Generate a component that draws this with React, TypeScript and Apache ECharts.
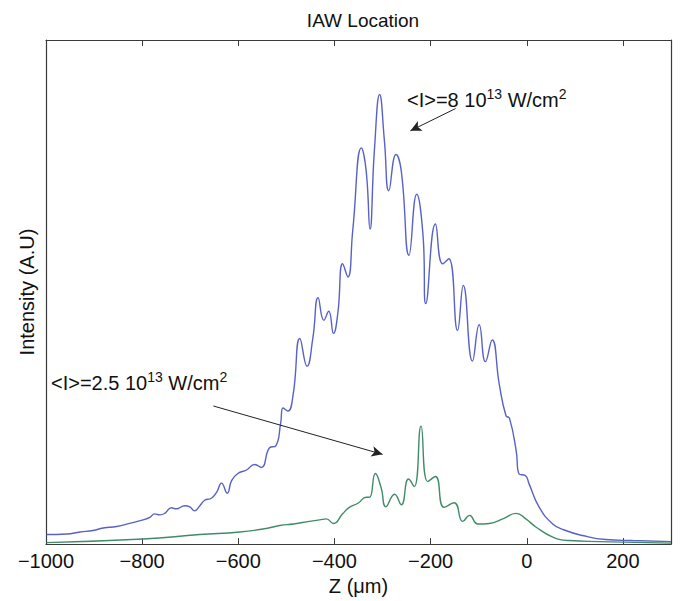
import React, { useEffect, useRef } from 'react';
import * as echarts from 'echarts';

// Z positions (µm) and intensities (A.U) for <I>=8 10^13 W/cm^2
const zHigh = [-999, -957, -929, -902, -881, -853, -826, -798, -784, -774, -763, -753, -739, -729, -711, -701, -691, -680, -670, -656, -645, -635, -623, -614, -601, -583, -566, -552, -535, -522, -512, -507, -497, -486, -472, -457, -445, -434, -422, -412, -402, -393, -383, -372, -362, -344, -334, -326, -317, -306, -296, -287, -272, -261, -245, -229, -216, -210, -190, -175, -162, -144, -132, -113, -99, -86, -72, -57, -43, -36, -22, -16, -3, 5, 26, 54, 78, 116, 164, 220, 300];
const iHigh = [1.9, 2.0, 2.4, 2.7, 3.2, 3.5, 4.1, 4.8, 5.3, 6.0, 5.8, 6.1, 7.2, 7.0, 7.6, 7.4, 6.6, 7.6, 8.7, 9.1, 10.3, 12.1, 10.1, 12.6, 14.0, 14.7, 15.8, 15.2, 19.1, 19.5, 23.9, 27.0, 26.4, 29.6, 40.8, 35.3, 40.8, 48.9, 44.4, 46.2, 41.8, 45.8, 55.6, 53.0, 62.2, 78.6, 74.0, 62.5, 78.0, 89.2, 79.9, 70.1, 77.3, 74.0, 57.3, 69.4, 61.5, 47.7, 63.5, 55.6, 56.6, 42.4, 51.3, 36.3, 43.5, 36.2, 40.5, 31.6, 25.4, 25.0, 18.5, 13.9, 13.6, 11.9, 7.3, 4.0, 2.8, 1.7, 0.9, 0.7, 0.5];

// Z positions (µm) and intensities (A.U) for <I>=2.5 10^13 W/cm^2
const zLow = [-999, -798, -680, -597, -542, -514, -485, -452, -431, -417, -402, -383, -369, -351, -334, -327, -315, -303, -293, -275, -261, -246, -234, -220, -206, -190, -172, -151, -133, -119, -102, -78, -50, -22, -2, 19, 54, 88, 151, 300];
const iLow = [0.3, 1.0, 1.9, 2.4, 3.1, 3.7, 4.0, 4.5, 4.8, 5.0, 4.1, 6.0, 7.3, 8.1, 9.3, 9.3, 14.0, 11.2, 7.4, 9.9, 7.8, 12.9, 11.4, 23.4, 12.4, 13.4, 7.3, 8.2, 4.5, 5.7, 4.0, 4.1, 5.0, 6.1, 5.0, 3.4, 1.4, 0.7, 0.5, 0.2];

// Annotation arrows: [start, end] in data coordinates (Z, intensity)
const arrowHigh = [[-148, 86.4], [-242, 82.0]];
const arrowLow = [[-652, 27.4], [-300, 17.8]];

const FONT = 'Liberation Sans, Arial, Helvetica, sans-serif';

export default function App() {
  const ref = useRef<HTMLDivElement>(null);
  useEffect(() => {
    document.body.style.margin = '0';
    const chart = echarts.init(ref.current!, null, { renderer: 'svg' });
    const axisLine = { show: true, onZero: false, lineStyle: { color: '#3a3a3a', width: 1.2 } };
    const minusFmt = (v: number) => String(v).replace('-', '\u2212');
    const richStyle = {
      m: { fontFamily: FONT, fontSize: 20, lineHeight: 26, fill: '#111' },
      s: { fontFamily: FONT, fontSize: 14, lineHeight: 26, verticalAlign: 'top', fill: '#111' },
    };
    chart.setOption({
      animation: false,
      backgroundColor: '#ffffff',
      title: {
        text: 'IAW Location',
        left: 358,
        top: 6,
        textAlign: 'center',
        textStyle: { fontFamily: FONT, fontSize: 19, fontWeight: 'normal', color: '#111' },
      },
      grid: { left: 46, right: 12, top: 40, bottom: 54 },
      xAxis: [
        {
          type: 'value',
          min: -1000,
          max: 300,
          interval: 200,
          position: 'bottom',
          name: 'Z (\u03bcm)',
          nameLocation: 'middle',
          nameGap: 25,
          nameTextStyle: { fontFamily: FONT, fontSize: 20, color: '#111' },
          axisLine,
          axisTick: { show: true, inside: true, length: 6, lineStyle: { color: '#3a3a3a' } },
          axisLabel: { fontFamily: FONT, fontSize: 20, color: '#111', margin: 7, showMaxLabel: false, formatter: minusFmt },
          splitLine: { show: false },
        },
        {
          type: 'value',
          min: -1000,
          max: 300,
          interval: 200,
          position: 'top',
          axisLine,
          axisTick: { show: true, inside: true, length: 6, lineStyle: { color: '#3a3a3a' } },
          axisLabel: { show: false },
          splitLine: { show: false },
        },
      ],
      yAxis: [
        {
          type: 'value',
          min: 0,
          max: 100,
          position: 'left',
          name: 'Intensity (A.U)',
          nameLocation: 'middle',
          nameGap: 9,
          nameTextStyle: { fontFamily: FONT, fontSize: 20, color: '#111' },
          axisLine,
          axisTick: { show: false },
          axisLabel: { show: false },
          splitLine: { show: false },
        },
        {
          type: 'value',
          min: 0,
          max: 100,
          position: 'right',
          axisLine,
          axisTick: { show: false },
          axisLabel: { show: false },
          splitLine: { show: false },
        },
      ],
      series: [
        {
          type: 'line',
          name: 'high',
          data: zHigh.map((z, i) => [z, iHigh[i]]),
          showSymbol: false,
          smooth: 0.5,
          lineStyle: { color: '#5862c6', width: 1.4 },
          markLine: {
            silent: true,
            symbol: ['none', 'arrow'],
            symbolSize: [8, 11],
            label: { show: false },
            lineStyle: { color: '#222', width: 1, type: 'solid' },
            data: [
              [{ coord: arrowHigh[0] }, { coord: arrowHigh[1] }],
              [{ coord: arrowLow[0] }, { coord: arrowLow[1] }],
            ],
          },
        },
        {
          type: 'line',
          name: 'low',
          data: zLow.map((z, i) => [z, iLow[i]]),
          showSymbol: false,
          smooth: 0.5,
          lineStyle: { color: '#408c6a', width: 1.4 },
        },
      ],
      graphic: [
        {
          type: 'text',
          left: 407,
          top: 87,
          style: { text: '{m|<I>=8 10}{s|13}{m| W/cm}{s|2}', rich: richStyle },
        },
        {
          type: 'text',
          left: 51,
          top: 370,
          style: { text: '{m|<I>=2.5 10}{s|13}{m| W/cm}{s|2}', rich: richStyle },
        },
      ],
    });
    return () => chart.dispose();
  }, []);
  return <div ref={ref} style={{ width: 683, height: 601 }} />;
}
